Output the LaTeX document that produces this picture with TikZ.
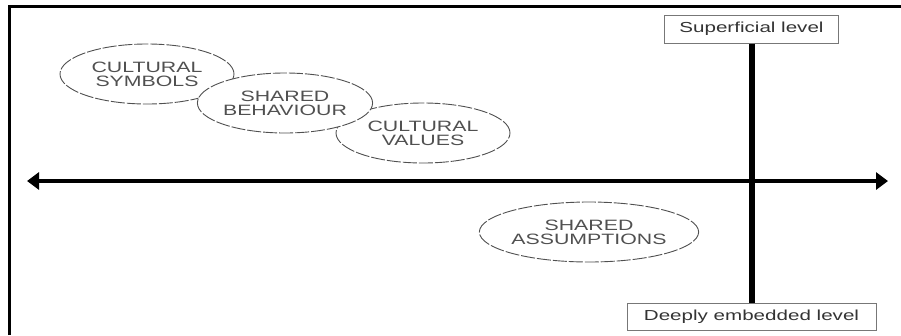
\documentclass[tikz,border=0pt]{standalone}
\usepackage{fontspec}
\usetikzlibrary{shapes.geometric,arrows.meta}
\newfontfamily\diagfont[FakeStretch=1.42]{Liberation Sans}
\definecolor{ellgray}{HTML}{505050}
\definecolor{boxgray}{HTML}{777777}
\begin{document}
\begin{tikzpicture}[x=1pt,y=-1pt,
    layer/.style={ellipse,draw=ellgray,fill=white,line width=0.9pt,
      dash pattern=on 14pt off 2pt,minimum width=174pt,minimum height=60pt,
      inner sep=0pt,align=center,text=ellgray,
      font=\diagfont\fontsize{15}{14}\selectfont},
    level/.style={rectangle,draw=boxgray,line width=1pt,minimum height=28pt,
      inner sep=0pt,text=black!80,font=\diagfont\fontsize{14.5}{16}\selectfont},
    axis/.style={line width=4.5pt,
      {Triangle[length=12pt,width=17pt]}-{Triangle[length=12pt,width=17pt]}}]
  \useasboundingbox (0,0) rectangle (901,335);
  \draw[line width=3pt] (9.5,335) |- (901,6.5);
  \node[layer] (symbols) at (147,74) {CULTURAL\\SYMBOLS};
  \node[layer] (values) at (423,133) {CULTURAL\\VALUES};
  \node[layer] (behaviour) at (285,103) {SHARED\\BEHAVIOUR};
  \node[layer,minimum width=189pt] (assumptions) at (589,232) {SHARED\\ASSUMPTIONS};
  \node[level,minimum width=174pt] (superficial) at (751.5,29) {Superficial level};
  \node[level,minimum width=249pt,minimum height=27pt] (deep) at (751.5,316.5) {Deeply embedded level};
  \coordinate (west) at (27,181);
  \coordinate (east) at (888,181);
  \begin{scope}
    \draw[axis] (west) -- (east);
    \draw[line width=6pt] (superficial) -- (deep);
  \end{scope}
\end{tikzpicture}
\end{document}
